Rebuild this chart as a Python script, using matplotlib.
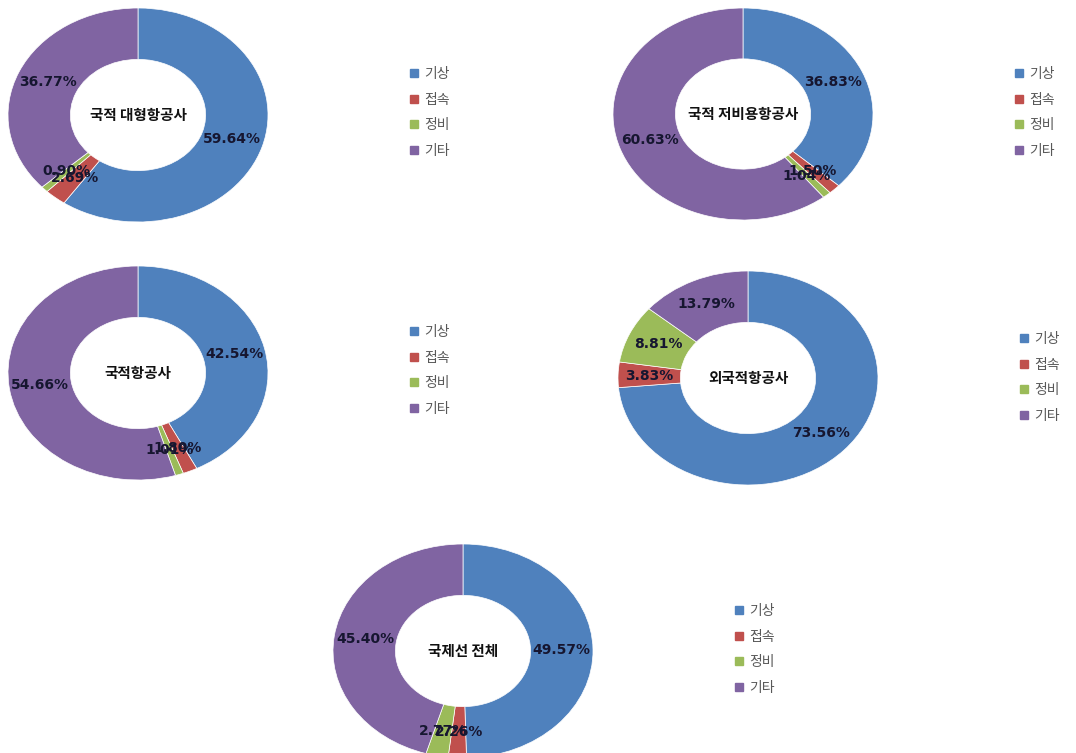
import matplotlib
matplotlib.use("Agg")
import matplotlib.pyplot as plt
from matplotlib.lines import Line2D

plt.rcParams['font.family'] = ['Noto Sans CJK KR', 'DejaVu Sans']

categories = ['기상', '접속', '정비', '기타']
colors = ['#4F81BD', '#C0504D', '#9BBB59', '#8064A2']

titles = ['국적 대형항공사', '국적 저비용항공사', '국적항공사', '외국적항공사', '국제선 전체']
values_1 = [59.64, 2.69, 0.90, 36.77]
values_2 = [36.83, 1.50, 1.04, 60.63]
values_3 = [42.54, 1.80, 1.01, 54.66]
values_4 = [73.56, 3.83, 8.81, 13.79]
values_5 = [49.57, 2.26, 2.77, 45.40]
all_values = [values_1, values_2, values_3, values_4, values_5]

W, H = 1076, 753
fig = plt.figure(figsize=(W / 100, H / 100), dpi=100)
fig.patch.set_facecolor('white')

# (center x, center y, radius x, radius y) in pixels; legend anchor (x, y)
layout = [
    (138, 115, 130, 107, (410, 67)),
    (743, 114, 130, 106, (1015, 67)),
    (138, 373, 130, 107, (410, 325)),
    (748, 378, 130, 107, (1020, 332)),
    (463, 651, 130, 107, (735, 604)),
]

for vals, title, (cx, cy, rx, ry, (lx, ly)) in zip(all_values, titles, layout):
    ax = fig.add_axes([(cx - rx) / W, 1 - (cy + ry) / H, 2 * rx / W, 2 * ry / H])
    labels_iter = iter(vals)
    wedges, texts, autotexts = ax.pie(
        vals, colors=colors, startangle=90, counterclock=False,
        autopct=lambda p, it=labels_iter: f'{next(it):.2f}%', pctdistance=0.76,
        wedgeprops=dict(width=0.48, edgecolor='white', linewidth=0.5),
        textprops=dict(fontsize=10, fontweight='bold', color='#161630',
                       family='DejaVu Sans'))
    ax.set_aspect('auto')
    ax.set_xlim(-1, 1)
    ax.set_ylim(-1, 1)
    ax.text(0, 0, title, ha='center', va='center', fontsize=10.5,
            fontweight='bold', color='#111111')
    handles = [Line2D([], [], marker='s', linestyle='none', markersize=5.5,
                      markerfacecolor=c, markeredgecolor=c) for c in colors]
    fig.legend(handles, categories, loc='upper left',
               bbox_to_anchor=(lx / W, 1 - ly / H), frameon=False,
               fontsize=10, labelcolor='#595959', handlelength=0.6,
               handletextpad=0.4, labelspacing=0.84, borderaxespad=0,
               borderpad=0)

fig.savefig('out.png', dpi=100, facecolor='white')
